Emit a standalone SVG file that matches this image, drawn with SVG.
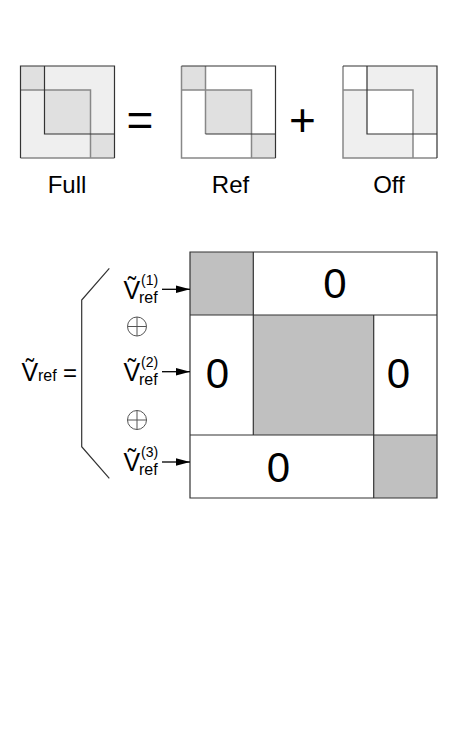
<svg xmlns="http://www.w3.org/2000/svg" width="474" height="733" viewBox="0 0 474 733">
<defs>
<style>
text{font-family:"Liberation Sans",Arial,sans-serif;fill:#000}
.dk{stroke:#333;stroke-width:1.2;fill:none}
.gr{stroke:#888;stroke-width:1.5;fill:none}
.lab{font-size:24px;text-anchor:middle}
.op{text-anchor:middle}
.zero{font-size:42px;text-anchor:middle}
.V{font-size:25px}
.sub{font-size:16px}
.sup{font-size:14px}
.mx{stroke:#333;stroke-width:1.2}
.conn{stroke:#000;stroke-width:1.3;fill:none}
.br{stroke:#333;stroke-width:1.2;fill:none}
.oplus{stroke:#555;stroke-width:1;fill:none}
</style>
<marker id="ah" markerUnits="userSpaceOnUse" markerWidth="15" markerHeight="8" refX="14" refY="4" orient="auto">
<path d="M0,0.3 L14,4 L0,7.7 Z" fill="#000"/>
</marker>
</defs>
<rect width="474" height="733" fill="#fff"/>

<g id="full">
<rect x="20.5" y="66" width="94" height="92" fill="#efefef"/>
<rect x="20.5" y="66" width="24" height="24" fill="#e0e0e0"/>
<rect x="44.5" y="90" width="46" height="44" fill="#e0e0e0"/>
<rect x="90.5" y="134" width="24" height="24" fill="#e0e0e0"/>
<path class="gr" d="M20.5,90 H90.5 V158 M20.5,158 H114.5"/>
<path class="dk" d="M20.5,158 V66 H114.5 V158 M44.5,66 V134 H114.5"/>
<text class="lab" x="67" y="192.5">Full</text>
</g>

<text id="eq" class="op" x="140" y="136" font-size="46">=</text>

<g id="ref">
<rect x="181.5" y="66" width="94" height="92" fill="#fff"/>
<rect x="181.5" y="66" width="24" height="24" fill="#e0e0e0"/>
<rect x="205.5" y="90" width="46" height="44" fill="#e0e0e0"/>
<rect x="251.5" y="134" width="24" height="24" fill="#e0e0e0"/>
<path class="gr" d="M181.5,66 V158 H275.5 M181.5,90 H251.5 V158 M205.5,66 V134"/>
<path class="dk" d="M181.5,66 H275.5 V158 M205.5,134 H275.5"/>
<text class="lab" x="230.5" y="192.5">Ref</text>
</g>

<text id="plus" class="op" x="302.5" y="136" font-size="46">+</text>

<g id="off">
<rect x="343" y="66" width="94" height="92" fill="#efefef"/>
<rect x="343" y="66" width="24" height="24" fill="#fff"/>
<rect x="367" y="90" width="46" height="44" fill="#fff"/>
<rect x="413" y="134" width="24" height="24" fill="#fff"/>
<path class="gr" d="M343,66 V158 H437 M343,90 H413 V158"/>
<path class="dk" d="M343,66 H437 V158 M367,66 V134 H437"/>
<text class="lab" x="389" y="192.5">Off</text>
</g>

<g id="vref-total">
<text class="V" x="21.5" y="381">Ṽ</text>
<text class="sub" x="38" y="381">ref</text>
<text x="63" y="381" font-size="24">=</text>
</g>

<g id="vref1">
<text class="V" x="123.5" y="298.5">Ṽ</text>
<text class="sup" x="141" y="284.5">(1)</text>
<text class="sub" x="139" y="302.5">ref</text>
</g>
<g id="oplus1">
<circle class="oplus" cx="137" cy="326.5" r="9.5"/>
<path class="oplus" d="M127.5,326.5 H146.5 M137,317 V336"/>
</g>
<g id="vref2">
<text class="V" x="123.5" y="380.5">Ṽ</text>
<text class="sup" x="141" y="366.5">(2)</text>
<text class="sub" x="139" y="384.5">ref</text>
</g>
<g id="oplus2">
<circle class="oplus" cx="137" cy="420" r="9.5"/>
<path class="oplus" d="M127.5,420 H146.5 M137,410.5 V429.5"/>
</g>
<g id="vref3">
<text class="V" x="123.5" y="470.5">Ṽ</text>
<text class="sup" x="141" y="456.5">(3)</text>
<text class="sub" x="139" y="474.5">ref</text>
</g>

<g id="matrix">
<rect x="190" y="252" width="247" height="246" fill="#fff"/>
<rect x="190" y="252" width="63.3" height="63" fill="#c0c0c0"/>
<rect x="253.3" y="315" width="120.4" height="120" fill="#c0c0c0"/>
<rect x="373.7" y="435" width="63.3" height="63" fill="#c0c0c0"/>
<path class="mx" fill="none" d="M190,252 H437 V498 H190 Z M253.3,252 V435 M373.7,315 V498 M190,315 H437 M190,435 H437"/>
<text class="zero" x="335" y="298">0</text>
<text class="zero" x="217.5" y="388">0</text>
<text class="zero" x="398.5" y="388">0</text>
<text class="zero" x="278.5" y="482">0</text>
</g>

<g id="connectors">
<path class="br" d="M109.3,268.3 L81.7,300 V446.7 L109.3,478.3"/>
<line class="conn" x1="162" y1="289.3" x2="190" y2="289.3" marker-end="url(#ah)"/>
<line class="conn" x1="162" y1="371.7" x2="190" y2="371.7" marker-end="url(#ah)"/>
<line class="conn" x1="162" y1="462" x2="190" y2="462" marker-end="url(#ah)"/>
</g>
</svg>
